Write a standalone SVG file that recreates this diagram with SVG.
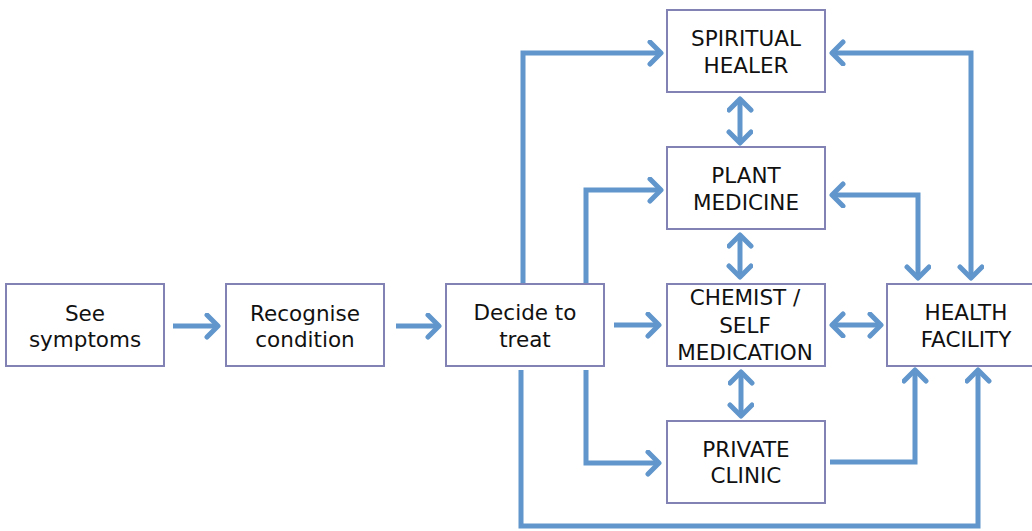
<svg xmlns="http://www.w3.org/2000/svg" width="1032" height="531" viewBox="0 0 1032 531">
<style>
.box{fill:#fff;stroke:#8282b4;stroke-width:2}
.t{font-family:"DejaVu Sans",Verdana,sans-serif;font-size:21.5px;fill:#111;text-anchor:middle}
.c{fill:none;stroke:#6096cb;stroke-width:5;stroke-linejoin:miter}
</style>
<defs>
<marker id="ah" markerUnits="userSpaceOnUse" markerWidth="30" markerHeight="30" refX="15" refY="13" orient="auto-start-reverse" viewBox="0 0 30 30">
<path d="M4,2 L15,13 L4,24" fill="none" stroke="#6096cb" stroke-width="5" stroke-linecap="round" stroke-linejoin="round"/>
</marker>
</defs>
<g id="connectors">
<path class="c" d="M173,326 H218" marker-end="url(#ah)"/>
<path class="c" d="M396,326 H439" marker-end="url(#ah)"/>
<path class="c" d="M614,325 H659" marker-end="url(#ah)"/>
<path class="c" d="M523,283 V53 H661" marker-end="url(#ah)"/>
<path class="c" d="M586,283 V190 H661" marker-end="url(#ah)"/>
<path class="c" d="M740,99 V143" marker-start="url(#ah)" marker-end="url(#ah)"/>
<path class="c" d="M740,235 V277" marker-start="url(#ah)" marker-end="url(#ah)"/>
<path class="c" d="M741,372 V416" marker-start="url(#ah)" marker-end="url(#ah)"/>
<path class="c" d="M832,325 H881" marker-start="url(#ah)" marker-end="url(#ah)"/>
<path class="c" d="M832,53 H971 V278" marker-start="url(#ah)" marker-end="url(#ah)"/>
<path class="c" d="M832,195 H918 V278" marker-start="url(#ah)" marker-end="url(#ah)"/>
<path class="c" d="M830,462 H915 V370" marker-end="url(#ah)"/>
<path class="c" d="M521,370 V526 H978 V370" marker-end="url(#ah)"/>
<path class="c" d="M586,370 V463 H659" marker-end="url(#ah)"/>
</g>
<g id="see-symptoms"><rect class="box" x="6" y="284" width="158" height="82"/><text class="t" x="85" y="321">See</text><text class="t" x="85" y="347">symptoms</text></g>
<g id="recognise-condition"><rect class="box" x="226" y="284" width="158" height="82"/><text class="t" x="305" y="321">Recognise</text><text class="t" x="305" y="347">condition</text></g>
<g id="decide-to-treat"><rect class="box" x="446" y="284" width="158" height="82"/><text class="t" x="525" y="320">Decide to</text><text class="t" x="525" y="347">treat</text></g>
<g id="spiritual-healer"><rect class="box" x="667" y="10" width="158" height="82"/><text class="t" x="746" y="46">SPIRITUAL</text><text class="t" x="746" y="73">HEALER</text></g>
<g id="plant-medicine"><rect class="box" x="667" y="147" width="158" height="82"/><text class="t" x="746" y="183">PLANT</text><text class="t" x="746" y="210">MEDICINE</text></g>
<g id="chemist"><rect class="box" x="667" y="284" width="158" height="82"/><text class="t" x="745" y="305">CHEMIST /</text><text class="t" x="745" y="333">SELF</text><text class="t" x="745" y="360">MEDICATION</text></g>
<g id="health-facility"><rect class="box" x="887" y="284" width="158" height="82"/><text class="t" x="966" y="320">HEALTH</text><text class="t" x="966" y="347">FACILITY</text></g>
<g id="private-clinic"><rect class="box" x="667" y="421" width="158" height="82"/><text class="t" x="746" y="457">PRIVATE</text><text class="t" x="746" y="483">CLINIC</text></g>
</svg>
